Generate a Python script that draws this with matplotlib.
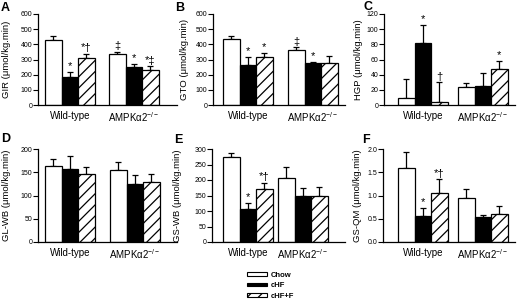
import matplotlib
matplotlib.use("Agg")
import matplotlib.pyplot as plt
from matplotlib.patches import Patch

plt.rcParams['font.family'] = ['Liberation Sans', 'DejaVu Sans']
plt.rcParams['mathtext.fontset'] = 'custom'
plt.rcParams['mathtext.rm'] = 'Liberation Sans'
plt.rcParams['mathtext.it'] = 'Liberation Sans'
plt.rcParams['hatch.linewidth'] = 0.9

# Groups and diets
GROUPS = ["Wild-type", "AMPK\u03b12$^{-/-}$"]
DIETS = ["Chow", "cHF", "cHF+F"]

# Panel A - GIR
gir_mean = [[428, 182, 312], [338, 250, 228]]
gir_err = [[24, 35, 24], [14, 22, 26]]
gir_marks = [["", "*", "*\u2020"], ["\u2021", "*", "*\u2021"]]

# Panel B - GTO
gto_mean = [[438, 266, 318], [365, 278, 280]]
gto_err = [[20, 52, 26], [16, 6, 40]]
gto_marks = [["", "*", "*"], ["\u2021", "*", ""]]

# Panel C - HGP
hgp_mean = [[9.5, 82, 3.5], [24, 25.5, 48]]
hgp_err = [[24.5, 24, 26.5], [4.5, 17, 10]]
hgp_marks = [["", "*", "\u2020"], ["", "", "*"]]

# Panel D - GL-WB
glwb_mean = [[163, 157, 147], [155, 125, 130]]
glwb_err = [[16, 29, 15], [18, 20, 16]]
glwb_marks = [["", "", ""], ["", "", ""]]

# Panel E - GS-WB
gswb_mean = [[275, 106, 171], [208, 150, 149]]
gswb_err = [[13, 21, 19], [34, 23, 30]]
gswb_marks = [["", "*", "*\u2020"], ["", "", ""]]

# Panel F - GS-QM
gsqm_mean = [[1.60, 0.56, 1.05], [0.95, 0.54, 0.61]]
gsqm_err = [[0.34, 0.18, 0.30], [0.18, 0.05, 0.16]]
gsqm_marks = [["", "*", "*\u2020"], ["", "", ""]]

W, H = 520, 299
fig = plt.figure(figsize=(W / 100, H / 100), dpi=100)

BAR_PX = 16.5
FILLS = [("white", ""), ("black", ""), ("white", "///")]

# (letter, ylabel, mean, err, marks, yticks, box px [left, right, top, bottom],
#  first bar px, second group px, letter px, ylabel px)
panels = [
    ("A", "GIR (\u03bcmol/kg.min)", gir_mean, gir_err, gir_marks, [0, 100, 200, 300, 400, 500, 600],
     (38, 177, 14, 105), 45, 109, (1, 11), 11),
    ("B", "GTO (\u03bcmol/kg.min)", gto_mean, gto_err, gto_marks, [0, 100, 200, 300, 400, 500, 600],
     (213, 345, 14, 105), 223, 288, (175, 11), 189),
    ("C", "HGP (\u03bcmol/kg.min)", hgp_mean, hgp_err, hgp_marks, [0, 20, 40, 60, 80, 100, 120],
     (384, 515, 14, 105), 398, 458, (364, 10), 363),
    ("D", "GL-WB (\u03bcmol/kg.min)", glwb_mean, glwb_err, glwb_marks, [0, 50, 100, 150, 200],
     (38, 177, 149, 242), 45, 110, (1, 142), 11),
    ("E", "GS-WB (\u03bcmol/kg.min)", gswb_mean, gswb_err, gswb_marks, [0, 50, 100, 150, 200, 250, 300],
     (212, 345, 149, 242), 223, 278, (174, 143), 182),
    ("F", "GS-QM (\u03bcmol/kg.min)", gsqm_mean, gsqm_err, gsqm_marks, [0.0, 0.5, 1.0, 1.5, 2.0],
     (383, 515, 149, 242), 398, 458, (362, 143), 362),
]

for letter, ylabel, mean, err, marks, yticks, box, x0, x1, lpos, ypx in panels:
    left, right, top, bottom = box
    ax = fig.add_axes([left / W, 1 - bottom / H, (right - left) / W, (bottom - top) / H])
    group_pos = [0, (x1 - x0) / BAR_PX]
    for g in range(2):
        for i in range(3):
            x = group_pos[g] + i + 0.5
            color, hatch = FILLS[i]
            ax.bar(x, mean[g][i], width=1.0, color=color, edgecolor="black",
                   linewidth=0.9, hatch=hatch, zorder=2)
            ax.errorbar(x, mean[g][i], yerr=[[0], [err[g][i]]], fmt="none",
                        ecolor="black", elinewidth=0.9, capsize=2.2, capthick=0.9, zorder=1)
            if marks[g][i]:
                ax.annotate(marks[g][i], (x, mean[g][i] + err[g][i]), xytext=(0, 0.5),
                            textcoords="offset points", ha="center", va="bottom",
                            fontsize=8)
    ax.set_xlim((left - x0) / BAR_PX, (right - x0) / BAR_PX)
    ax.set_ylim(yticks[0], yticks[-1])
    ax.set_yticks(yticks)
    if letter == "F":
        ax.set_yticklabels([f"{t:.1f}" for t in yticks])
    ax.set_xticks([p + 1.5 for p in group_pos])
    ax.set_xticklabels(GROUPS, fontsize=7)
    ax.tick_params(axis="x", length=0, pad=4)
    ax.tick_params(axis="y", length=3.6, width=0.8, labelsize=5, pad=0.6)
    ax.spines["top"].set_visible(False)
    ax.spines["right"].set_visible(False)
    ax.spines["left"].set_linewidth(0.9)
    ax.spines["bottom"].set_linewidth(0.9)
    ax.set_ylabel(ylabel, fontsize=6.8)
    ax.yaxis.set_label_coords((ypx - left) / (right - left), 0.5)
    fig.text(lpos[0] / W, 1 - lpos[1] / H, letter, fontsize=9, fontweight="bold",
             ha="left", va="baseline")

handles = [Patch(facecolor=c, edgecolor="black", hatch=h, linewidth=0.8) for c, h in FILLS]
fig.legend(handles, DIETS, loc="upper left", bbox_to_anchor=(243 / W, 1 - 268 / H),
           frameon=False, handlelength=2.6, handleheight=0.3, handletextpad=0.5,
           labelspacing=0.45, borderpad=0, prop={"size": 5.5, "weight": "bold"})

fig.savefig("out.png", dpi=100)
